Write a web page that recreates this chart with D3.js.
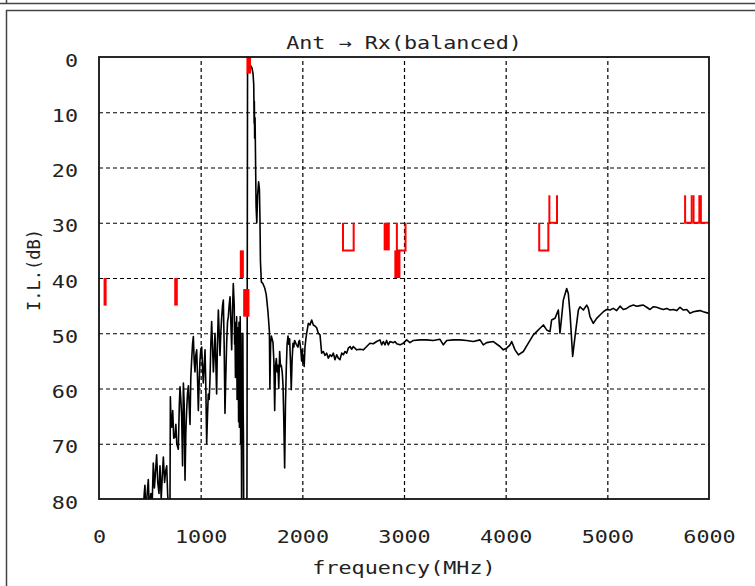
<!DOCTYPE html>
<html>
<head>
<meta charset="utf-8">
<script src="https://cdn.jsdelivr.net/npm/d3@7"></script>
<style>
  body { margin: 0; background: #fff; }
  svg { display: block; }
</style>
</head>
<body>
<script>
const freq = [
  430, 445, 452, 460, 470, 485, 495, 510, 520, 534,
  545, 556, 567, 578, 590, 600, 612, 622, 633, 645,
  655, 666, 675, 685, 698, 702, 708, 715, 725, 735,
  747, 756, 765, 780, 790, 797, 805, 813, 822, 830,
  838, 846, 854, 862, 870, 879, 887, 895, 903, 911,
  920, 928, 936, 944, 952, 961, 969, 977, 985, 993,
  1001, 1010, 1018, 1026, 1034, 1043, 1051, 1059, 1067, 1075,
  1084, 1092, 1100, 1108, 1116, 1125, 1133, 1141, 1149, 1157,
  1165, 1174, 1182, 1190, 1198, 1207, 1215, 1223, 1231, 1239,
  1247, 1256, 1264, 1272, 1280, 1289, 1297, 1305, 1313, 1321,
  1330, 1334, 1338, 1342, 1346, 1350, 1354, 1358, 1362, 1366,
  1370, 1373, 1375, 1377, 1379, 1381, 1383, 1385, 1387, 1389,
  1391, 1393, 1395, 1397, 1398, 1400, 1401, 1403, 1406, 1409,
  1412, 1415, 1418, 1421, 1424, 1455, 1461, 1468, 1478, 1490,
  1505, 1515, 1522, 1526, 1528, 1531, 1535, 1545, 1552, 1560,
  1570, 1578, 1583, 1588, 1597, 1612, 1630, 1645, 1662, 1676,
  1681, 1688, 1695, 1711, 1720, 1728, 1736, 1744, 1752, 1760,
  1768, 1777, 1785, 1793, 1802, 1810, 1818, 1826, 1834, 1842,
  1850, 1859, 1867, 1875, 1883, 1891, 1899, 1908, 1916, 1924,
  1940, 1957, 1965, 1973, 1985, 1993, 2000, 2006, 2012, 2018,
  2026, 2035, 2043, 2059, 2075, 2092, 2108, 2125, 2141, 2157,
  2174, 2190, 2207, 2223, 2239, 2256, 2272, 2289, 2305, 2321,
  2338, 2354, 2370, 2387, 2403, 2420, 2436, 2452, 2469, 2485,
  2502, 2534, 2567, 2600, 2633, 2665, 2698, 2731, 2764, 2780,
  2797, 2813, 2829, 2846, 2862, 2895, 2911, 2928, 2961, 2993,
  3026, 3059, 3092, 3157, 3223, 3288, 3354, 3387, 3420, 3485,
  3551, 3616, 3682, 3748, 3780, 3813, 3879, 3944, 3977, 4010,
  4043, 4059, 4092, 4125, 4174, 4223, 4272, 4305, 4338, 4371,
  4403, 4436, 4452, 4485, 4518, 4534, 4551, 4567, 4600, 4616,
  4633, 4659, 4682, 4715, 4731, 4764, 4797, 4813, 4829, 4862,
  4895, 4928, 4961, 4993, 5026, 5059, 5092, 5125, 5157, 5190,
  5223, 5256, 5289, 5321, 5354, 5387, 5420, 5453, 5485, 5518,
  5551, 5584, 5616, 5649, 5682, 5715, 5748, 5781, 5813, 5846,
  5879, 5912, 5944, 6000
];
const loss = [
  84, 79, 77.5, 83, 80, 76.5, 82, 79, 83, 73.5,
  78, 75, 72, 77, 79, 74, 80, 76, 72.4, 77,
  75, 74, 79, 82, 83, 61.5, 66, 67, 64, 69,
  68.8, 66.5, 70, 71, 63, 59.7, 62, 65, 74, 59,
  63, 76.6, 68, 64, 61, 59.5, 63, 66.5, 58, 55,
  52, 50.6, 55, 57, 54, 53, 58, 64, 59, 55,
  53, 52.5, 56, 59, 56, 53, 60, 70, 65, 61,
  62, 58, 52, 47.9, 52, 57, 54, 50, 55, 61,
  52, 45.8, 50, 54, 50, 47, 45, 44, 52, 64.5,
  58, 51.6, 48, 47, 45, 43.4, 48, 53, 46, 41,
  45, 52, 50, 58, 48, 56, 47, 62, 55, 49,
  52, 66, 60, 48, 50, 67, 64, 50, 62, 47,
  55, 70, 69, 50, 52, 71, 70, 84, 66, 58,
  68, 50, 64, 69, 84, 84, 3, 2.2, 1.8, 1.5,
  2, 3, 5, 12, 8, 14.7, 11, 27, 30, 25,
  22.6, 24, 29, 37, 40.7, 41, 41.8, 43, 46.1, 49.7,
  60, 52, 50.5, 51.6, 55, 64, 56, 54.6, 57, 55.8,
  60, 53.3, 56, 55.8, 57, 59.4, 66, 74.4, 63, 56.4,
  52, 50.5, 52, 51, 55, 60.2, 55, 51.8, 52.5, 51.3,
  52, 52.5, 51.5, 51.3, 53, 55, 53, 55.4, 54, 56,
  52.5, 51, 50, 48.2, 48.5, 47.6, 48.5, 48.7, 49, 50,
  50.3, 53.6, 53.3, 54, 53.6, 54.5, 53.9, 54.2, 53.6, 54.8,
  53.9, 54.5, 54.8, 53.6, 53.9, 53.3, 53.6, 52.7, 52.4, 52.9,
  52.4, 53, 52.9, 53, 52.4, 51.8, 51.9, 51.5, 51.2, 52.1,
  51.5, 52.1, 51.3, 52.1, 51.5, 51.7, 51.5, 51.9, 52.1, 51.8,
  51.2, 51.7, 51.3, 51.2, 51.2, 51.3, 51.1, 52.1, 51.3, 51.2,
  51.2, 51.3, 51.5, 51.2, 52.1, 51.7, 51.5, 52.4, 53, 52.7,
  52.1, 51.5, 53, 53.9, 53.3, 51.8, 50.3, 49.7, 49.1, 48.5,
  49.4, 49.7, 47.6, 47.3, 45.8, 50, 47, 44, 41.9, 42.8,
  46.4, 54.2, 50.6, 45.8, 45.2, 45.8, 44.9, 45.5, 47, 48.2,
  47.3, 46.7, 46.1, 45.7, 45.8, 45.5, 45.9, 45.1, 45.7, 45.5,
  45.1, 44.9, 45.1, 45, 44.9, 45.3, 45.7, 45.2, 45.3, 45.5,
  45.7, 45.5, 45.8, 45.7, 45.9, 45.3, 45.8, 45.7, 46.4, 46.1,
  46, 45.9, 46.1, 46.4
];

// spec marks: [start MHz, end MHz, level dB], each one is markDepth dB deep
const openMarks = [
  [2400, 2505, 30], [2930, 3015, 30], [4330, 4420, 30], [4430, 4505, 25],
  [5765, 5830, 25], [5848, 5905, 25], [5920, 6010, 25]
];
const solidMarks = [
  [45, 75, 40], [740, 775, 40], [1385, 1425, 35], [1418, 1480, 42],
  [1450, 1495, -2], [2800, 2860, 30], [2905, 2965, 35]
];
const markDepth = 5;

const xTicks = [0, 1000, 2000, 3000, 4000, 5000, 6000];
const yTicks = [0, 10, 20, 30, 40, 50, 60, 70, 80];

const title = 'Ant → Rx(balanced)';
const xLabel = 'frequency(MHz)';
const yLabel = 'I.L.(dB)';

let fontFamily = "'DejaVu Sans Mono', monospace";
let stretch = 1.28; // the source glyphs are wide

function draw_chart() {
    let svgWidth = 755;
    let svgHeight = 586;
    let plot = { left: 99, right: 709, top: 57, bottom: 499 };
    let plotH = plot.bottom - plot.top;

    let svg = d3.select('body').append('svg')
        .attr('width', svgWidth)
        .attr('height', svgHeight);

    // panel frame (window look)
    svg.append('path')
        .attr('d', 'M0,3.5H755M6.5,0V3.5')
        .attr('fill', 'none')
        .attr('stroke', '#444')
        .attr('stroke-width', 1.5);
    svg.append('rect')
        .attr('x', 6.5).attr('y', 10.5)
        .attr('width', 800).attr('height', 600)
        .attr('fill', 'none')
        .attr('stroke', '#444')
        .attr('stroke-width', 1.5);

    let x = d3.scaleLinear().domain([0, 6000]).range([plot.left, plot.right]);
    let y = d3.scaleLinear().domain([0, 80]).range([plot.top, plot.bottom]);

    // grid
    let gx = svg.append('g')
        .attr('transform', `translate(0, ${plot.bottom})`)
        .call(d3.axisBottom(x).tickValues(xTicks.slice(1, -1)).tickSize(-plotH).tickFormat(''));
    let gy = svg.append('g')
        .attr('transform', `translate(${plot.left}, 0)`)
        .call(d3.axisLeft(y).tickValues(yTicks.slice(1, -1)).tickSize(-(plot.right - plot.left)).tickFormat(''));
    [gx, gy].forEach(g => {
        g.select('.domain').remove();
        g.selectAll('line')
            .attr('stroke', '#000')
            .attr('stroke-width', 1.2)
            .attr('stroke-dasharray', '4,3');
    });

    svg.append('clipPath').attr('id', 'plotClip')
        .append('rect')
        .attr('x', plot.left).attr('y', plot.top)
        .attr('width', plot.right - plot.left).attr('height', plotH);

    let inner = svg.append('g').attr('clip-path', 'url(#plotClip)');

    // curve
    let line = d3.line()
        .x(i => x(freq[i]))
        .y(i => y(loss[i]));
    inner.append('path')
        .datum(d3.range(freq.length))
        .attr('d', line)
        .attr('fill', 'none')
        .attr('stroke', '#000')
        .attr('stroke-width', 1.6)
        .attr('stroke-linejoin', 'round');

    // spec marks
    inner.append('g')
        .selectAll('path')
        .data(openMarks)
        .enter()
        .append('path')
        .attr('d', d => `M${x(d[0])},${y(d[2])}V${y(d[2] + markDepth)}H${x(d[1])}V${y(d[2])}`)
        .attr('fill', 'none')
        .attr('stroke', '#ff0000')
        .attr('stroke-width', 2);
    inner.append('g')
        .selectAll('rect')
        .data(solidMarks)
        .enter()
        .append('rect')
        .attr('x', d => x(d[0]))
        .attr('y', d => y(d[2]))
        .attr('width', d => x(d[1]) - x(d[0]))
        .attr('height', d => y(d[2] + markDepth) - y(d[2]))
        .attr('fill', '#ff0000');

    // plot border
    svg.append('rect')
        .attr('x', plot.left).attr('y', plot.top)
        .attr('width', plot.right - plot.left).attr('height', plotH)
        .attr('fill', 'none')
        .attr('stroke', '#111')
        .attr('stroke-width', 1.8);

    // tick labels
    let ax = svg.append('g')
        .attr('transform', `translate(0, ${plot.bottom})`)
        .call(d3.axisBottom(x).tickValues(xTicks).tickSize(0).tickPadding(32).tickFormat(d => d));
    let ay = svg.append('g')
        .attr('transform', `translate(${plot.left}, 0)`)
        .call(d3.axisLeft(y).tickValues(yTicks).tickSize(0).tickFormat(d => d));
    [ax, ay].forEach(g => {
        g.select('.domain').remove();
        g.attr('font-family', fontFamily).attr('font-size', 17);
        g.selectAll('text').attr('fill', '#222');
    });
    ax.selectAll('text').attr('transform', `scale(${stretch},1)`);
    ay.selectAll('text')
        .attr('x', 0)
        .attr('dy', '0.36em')
        .attr('transform', `translate(-21,3) scale(${stretch},1)`);

    // titles
    svg.append('text')
        .attr('transform', `translate(${(plot.left + plot.right) / 2}, 49) scale(${stretch},1)`)
        .attr('text-anchor', 'middle')
        .attr('font-family', fontFamily)
        .attr('font-size', 17)
        .attr('fill', '#222')
        .text(title);
    svg.append('text')
        .attr('transform', `translate(${(plot.left + plot.right) / 2}, 574) scale(${stretch},1)`)
        .attr('text-anchor', 'middle')
        .attr('font-family', fontFamily)
        .attr('font-size', 17)
        .attr('fill', '#222')
        .text(xLabel);
    svg.append('text')
        .attr('transform', 'translate(40, 270) rotate(-90)')
        .attr('text-anchor', 'middle')
        .attr('font-family', fontFamily)
        .attr('font-size', 17)
        .attr('fill', '#222')
        .text(yLabel);
}

draw_chart();
</script>
</body>
</html>
